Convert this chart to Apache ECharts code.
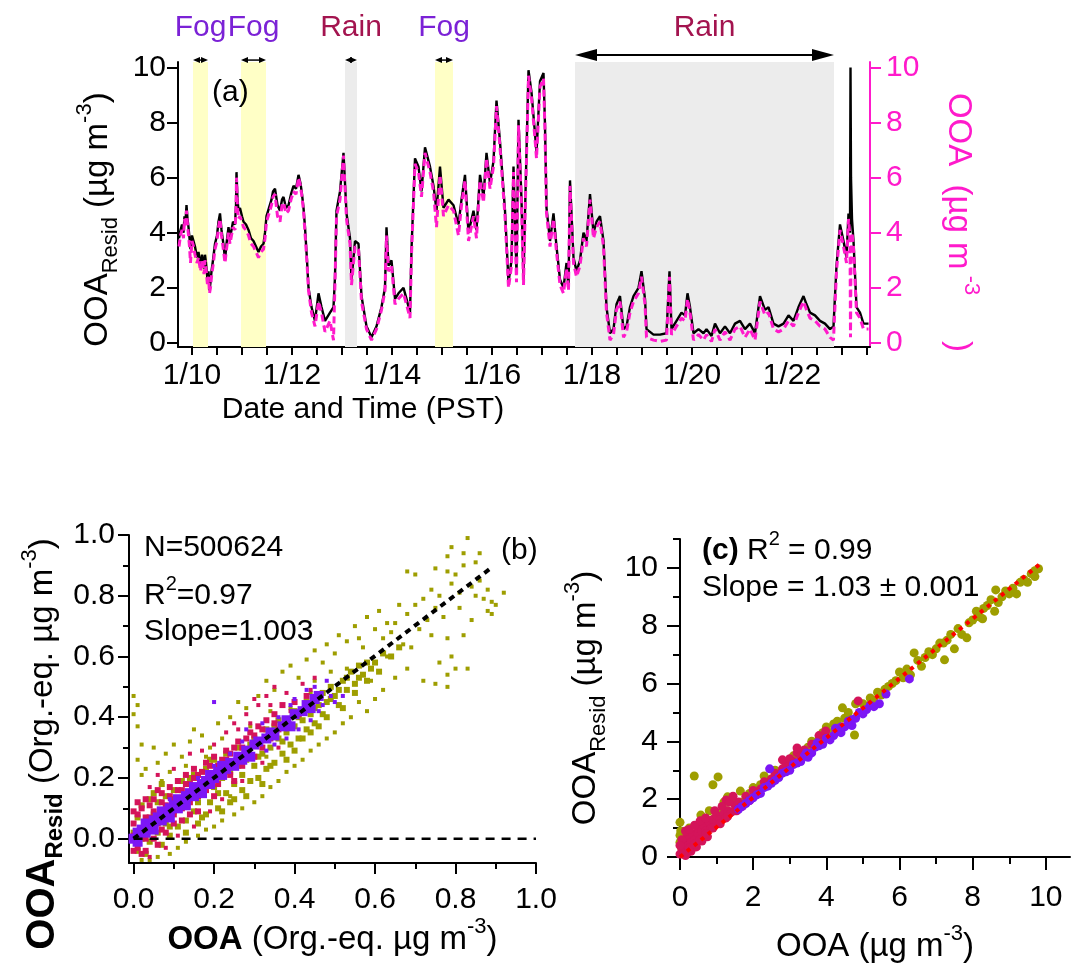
<!DOCTYPE html>
<html><head><meta charset="utf-8">
<script src="https://cdn.jsdelivr.net/npm/echarts@6/dist/echarts.min.js"></script>
<style>html,body{margin:0;padding:0;background:#fff}#c{width:1074px;height:966px}</style>
</head><body><div id="c"></div>
<script>
// ---------- DATA ----------
// Panel (a): time in days of January (PST)
const times = [
 9.74,9.77,9.80,9.83,9.85,9.87,9.89,9.91,9.93,9.95,
 9.97,10.00,10.03,10.06,10.10,10.13,10.17,10.20,10.22,10.24,
 10.26,10.28,10.31,10.33,10.35,10.37,10.39,10.42,10.46,10.50,
 10.53,10.56,10.59,10.62,10.64,10.66,10.69,10.73,10.76,10.79,
 10.82,10.86,10.88,10.89,10.91,10.93,10.96,11.00,11.03,11.08,
 11.13,11.18,11.23,11.28,11.33,11.38,11.43,11.46,11.49,11.54,
 11.59,11.62,11.66,11.71,11.76,11.80,11.83,11.88,11.93,11.98,
 12.03,12.08,12.13,12.17,12.20,12.23,12.26,12.30,12.33,
 12.39,12.46,12.53,12.59,12.66,12.76,12.83,12.86,12.89,12.96,
 13.03,13.09,13.16,13.19,13.26,13.33,13.39,13.49,13.59,13.69,
 13.79,13.86,13.89,13.93,13.99,14.06,14.13,14.23,14.29,14.36,
 14.39,14.46,14.53,14.59,14.66,14.76,14.83,14.89,14.96,15.03,
 15.13,15.23,15.33,15.39,15.46,15.53,15.63,15.69,15.76,15.83,
 15.89,15.96,16.03,16.09,16.16,16.26,16.33,16.39,16.43,16.49,
 16.53,16.59,16.63,16.66,16.73,16.79,16.86,16.89,16.96,17.03,
 17.06,17.09,17.16,17.23,17.29,17.36,17.43,17.49,17.53,17.56,
 17.63,17.69,17.76,17.83,17.89,17.96,18.03,18.09,18.16,18.23,
 18.29,18.36,18.43,18.49,18.56,18.63,18.69,18.76,18.83,18.93,
 18.99,19.06,19.09,19.23,19.36,19.49,19.55,19.59,19.69,19.79,
 19.86,19.91,19.96,20.03,20.13,20.23,20.29,20.39,20.46,20.56,
 20.66,20.76,20.86,20.96,21.06,21.16,21.26,21.36,21.46,21.53,
 21.63,21.73,21.83,21.93,22.03,22.13,22.23,22.29,22.36,22.46,
 22.56,22.66,22.76,22.83,22.89,22.96,23.03,23.09,23.13,23.16,
 23.17,23.18,23.20,23.23,23.29,23.36,23.43,23.53
];
const ooaResid = [
 3.8,4.1,4.3,4.0,4.6,4.4,5.0,4.5,4.2,3.8,
 3.4,3.9,3.7,3.5,3.1,3.3,2.8,3.2,3.0,2.7,
 3.2,2.9,2.3,2.6,1.9,2.2,2.6,3.0,3.6,3.9,
 4.4,4.7,4.1,3.7,3.4,3.0,3.6,4.2,3.8,4.1,
 4.4,4.3,5.0,6.2,5.2,4.8,4.9,4.6,4.4,4.3,
 4.1,3.8,3.7,3.5,3.3,3.5,3.6,4.0,4.6,4.9,
 5.2,5.5,5.6,5.0,4.8,5.2,5.3,4.9,5.0,5.4,
 5.7,5.6,6.1,5.8,5.4,4.9,4.2,3.0,2.0,
 1.3,0.8,1.8,1.3,0.8,1.1,1.3,2.4,4.8,5.5,
 6.9,4.7,3.8,2.3,3.7,3.6,1.7,0.6,0.2,0.6,
 1.3,2.0,4.2,2.8,3.0,1.6,1.8,2.0,1.6,1.1,
 3.4,6.7,6.4,5.5,7.1,6.4,5.7,4.8,6.4,4.9,
 5.2,5.0,4.3,5.2,6.1,4.0,4.8,4.1,6.1,5.3,
 6.9,5.8,6.6,8.8,7.3,4.8,2.2,3.0,6.4,2.5,
 8.1,5.2,2.3,4.7,9.9,9.1,7.6,6.9,9.5,9.8,
 7.9,4.9,3.7,4.7,3.5,2.3,2.0,2.9,2.0,5.9,
 3.1,2.6,3.0,4.0,3.7,5.4,4.0,4.4,4.6,3.7,
 1.3,0.35,0.5,1.4,1.7,0.5,0.6,1.3,1.7,2.0,
 2.6,1.6,0.5,0.3,0.3,0.35,2.6,0.5,0.8,1.1,
 1.0,1.8,1.3,0.35,0.5,0.35,0.5,0.25,0.7,0.35,
 0.6,0.35,0.7,0.8,0.5,0.7,0.35,1.7,1.2,1.3,
 0.7,0.6,0.7,1.0,0.8,1.3,1.7,1.4,1.1,1.0,
 0.8,0.7,0.5,0.6,2.8,4.3,3.7,3.1,4.7,4.0,
 10.0,6.0,4.5,3.7,1.3,1.1,0.7,0.7
];
const ooa = [
 3.5,3.9,4.1,3.8,4.5,4.2,4.8,4.3,3.9,3.5,
 2.9,3.7,3.5,3.2,2.9,3.1,2.6,3.0,2.8,2.5,
 3.0,2.7,2.1,2.4,1.8,2.0,2.4,2.8,3.4,3.7,
 4.2,4.5,3.9,3.5,3.2,2.9,3.4,4.0,3.6,3.9,
 4.2,4.1,4.8,6.0,4.9,4.5,4.6,4.4,4.2,4.1,
 3.9,3.6,3.5,3.3,3.1,3.3,3.4,3.8,4.4,4.7,
 5.0,5.3,5.4,4.6,4.4,5.0,5.1,4.7,4.8,5.2,
 5.5,5.4,6.0,5.7,5.3,4.8,4.0,2.9,1.9,
 1.1,0.6,1.5,1.1,0.4,0.8,0.1,2.2,4.6,5.2,
 6.8,4.5,3.6,2.1,3.5,3.4,1.5,0.5,0.1,0.5,
 1.2,1.9,3.9,2.6,2.8,1.4,1.6,1.8,1.4,0.9,
 3.2,6.5,6.2,5.3,6.9,6.2,5.5,4.2,6.1,4.6,
 5.0,4.8,3.9,5.0,5.9,3.7,4.6,3.8,5.9,5.1,
 6.7,5.6,6.4,8.6,7.1,4.6,2.0,2.8,6.2,2.2,
 7.9,5.0,2.1,4.5,9.7,8.9,7.4,6.7,9.3,9.6,
 7.7,4.7,3.5,4.5,3.3,2.1,1.8,2.7,1.9,5.7,
 2.9,2.4,2.8,3.8,3.5,5.2,3.8,4.2,4.4,3.5,
 1.1,0.1,0.3,1.2,1.5,0.2,0.4,1.1,1.5,1.8,
 2.4,1.4,0.2,0.1,0.05,0.1,2.4,0.3,0.6,0.9,
 0.8,1.6,1.1,0.1,0.3,0.1,0.3,0.05,0.5,0.1,
 0.4,0.1,0.5,0.6,0.2,0.5,0.1,1.5,1.0,1.1,
 0.5,0.4,0.5,0.8,0.6,1.1,1.5,1.2,0.9,0.8,
 0.6,0.5,0.2,0.1,2.6,4.1,3.5,2.9,4.5,3.8,
 0.2,3.0,4.0,3.5,1.1,0.9,0.5,0.5
];
// Fog / Rain events (day of January)
const eventStart = [10.02, 10.98, 13.06, 14.86, 17.66];
const eventEnd   = [10.32, 11.48, 13.30, 15.22, 22.84];
const eventLabel = ['Fog', 'Fog', 'Rain', 'Fog', 'Rain'];
// Tick labels
const dayLabels = [10, 12, 14, 16, 18, 20, 22];
const dayTicks = [10,10.5,11,11.5,12,12.5,13,13.5,14,14.5,15,15.5,16,16.5,17,17.5,18,18.5,19,19.5,20,20.5,21,21.5,22,22.5,23,23.5];
const concLabels = [0, 2, 4, 6, 8, 10];
const fracLabels = [0, 0.2, 0.4, 0.6, 0.8, 1.0];
const fracMinor = [0.1, 0.3, 0.5, 0.7, 0.9];
const oddMinorX = [1, 3, 5, 7, 9];
const oddMinorY = [1, 3, 5, 7, 9, 11];

// Panel (b): OOA vs OOA_Resid (Org.-eq. ug m-3)
const oliveDenseB = [
 [0.00,0.02],[0.01,-0.04],[0.01,0.07],[0.02,0.00],[0.02,0.11],[0.03,-0.05],[0.03,0.05],[0.04,0.13],[0.04,-0.01],[0.05,0.08],
 [0.06,0.02],[0.06,0.12],[0.07,-0.02],[0.08,0.05],[0.08,0.14],[0.09,0.01],[0.10,0.09],[0.10,0.16],[0.11,0.04],[0.12,0.12],
 [0.12,0.19],[0.13,0.06],[0.14,0.15],[0.15,0.09],[0.15,0.21],[0.16,0.12],[0.17,0.07],[0.17,0.18],[0.18,0.23],[0.19,0.12],
 [0.20,0.17],[0.20,0.26],[0.21,0.10],[0.22,0.20],[0.23,0.15],[0.23,0.28],[0.24,0.22],[0.25,0.13],[0.25,0.18],[0.26,0.30],
 [0.27,0.21],[0.27,0.16],[0.28,0.26],[0.29,0.19],[0.30,0.33],[0.30,0.24],[0.31,0.20],[0.32,0.28],[0.33,0.23],[0.33,0.36],
 [0.34,0.30],[0.35,0.25],[0.36,0.33],[0.36,0.39],[0.37,0.28],[0.38,0.35],[0.39,0.31],[0.40,0.42],[0.40,0.37],[0.41,0.33],
 [0.42,0.39],[0.43,0.36],[0.43,0.45],[0.44,0.41],[0.45,0.38],[0.46,0.44],[0.47,0.48],[0.47,0.41],[0.48,0.45],[0.49,0.50],
 [0.50,0.47],[0.51,0.44],[0.52,0.52],[0.53,0.49],[0.54,0.55],[0.55,0.51],[0.56,0.57],[0.57,0.54],[0.58,0.58],[0.59,0.56],
 [0.05,0.15],[0.07,0.18],[0.09,0.04],[0.11,0.13],[0.13,0.02],[0.14,0.20],[0.16,0.05],[0.18,0.08],[0.19,0.26],[0.21,0.15],
 [0.22,0.09],[0.24,0.12],[0.26,0.24],[0.28,0.14],[0.29,0.31],[0.31,0.27],[0.32,0.18],[0.34,0.24],[0.35,0.37],[0.37,0.32],
 [0.38,0.26],[0.40,0.29],[0.41,0.40],[0.42,0.33],[0.44,0.35],[0.45,0.43],[0.46,0.37],[0.48,0.40],[0.49,0.46],[0.51,0.49],
 [0.52,0.43],[0.53,0.53],[0.55,0.48],[0.56,0.53],[0.58,0.52],[0.60,0.58],[0.61,0.55],[0.62,0.61],[0.64,0.60],[0.66,0.63]
];
const oliveSparseB = [
 [0.00,0.47],[0.01,0.44],[0.00,0.41],[0.01,0.37],[0.02,0.31],[0.01,0.26],[0.02,0.21],[0.03,0.23],[0.05,0.30],[0.06,0.25],
 [0.08,0.28],[0.10,0.31],[0.12,0.27],[0.14,0.32],[0.15,0.36],[0.17,0.34],[0.19,0.30],[0.21,0.38],[0.24,0.40],[0.26,0.45],
 [0.28,0.43],[0.31,0.47],[0.33,0.52],[0.35,0.49],[0.37,0.55],[0.39,0.57],[0.41,0.53],[0.43,0.59],[0.45,0.62],[0.47,0.58],
 [0.48,0.64],[0.50,0.61],[0.51,0.67],[0.53,0.65],[0.55,0.70],[0.56,0.66],[0.58,0.73],[0.60,0.69],[0.61,0.75],[0.63,0.71],
 [0.65,0.71],[0.66,0.77],[0.68,0.74],[0.68,0.88],[0.70,0.87],[0.70,0.77],[0.72,0.79],[0.74,0.82],[0.75,0.89],[0.76,0.80],
 [0.78,0.93],[0.78,0.88],[0.79,0.96],[0.79,0.84],[0.80,0.87],[0.82,0.94],[0.82,0.90],[0.83,0.99],[0.85,0.91],[0.86,0.94],
 [0.85,0.80],[0.87,0.79],[0.88,0.82],[0.89,0.78],[0.90,0.77],[0.92,0.81],[0.88,0.75],[0.89,0.74],[0.84,0.83],[0.81,0.81],
 [0.82,0.67],[0.78,0.66],[0.76,0.58],[0.79,0.60],[0.80,0.56],[0.83,0.56],[0.78,0.54],[0.75,0.51],[0.78,0.50],[0.68,0.56],
 [0.72,0.52],[0.65,0.53],[0.62,0.49],[0.60,0.46],[0.58,0.42],[0.56,0.45],[0.54,0.40],[0.52,0.38],[0.50,0.35],[0.48,0.33],
 [0.46,0.31],[0.44,0.29],[0.42,0.26],[0.40,0.24],[0.38,0.22],[0.36,0.19],[0.34,0.17],[0.32,0.14],[0.30,0.12],[0.27,0.10],
 [0.25,0.08],[0.22,0.06],[0.20,0.04],[0.18,0.03],[0.16,0.01],[0.13,-0.01],[0.11,-0.03],[0.09,-0.05],[0.06,-0.06],[0.04,-0.07],
 [0.02,-0.07],[0.07,0.19],[0.09,0.22],[0.13,0.24],[0.18,0.27],[0.22,0.33],[0.29,0.37],[0.34,0.42],[0.45,0.52],[0.49,0.55],
 [0.57,0.63],[0.62,0.66],[0.59,0.52],[0.63,0.60],[0.67,0.64],[0.71,0.69],[0.73,0.72],[0.69,0.63],[0.74,0.67],[0.77,0.73],
 [0.81,0.76],[0.84,0.72],[0.86,0.85],[0.75,0.76],[0.64,0.68],[0.53,0.56],[0.44,0.48],[0.39,0.43],[0.33,0.27],[0.24,0.14]
];
const crimsonDenseB = [
 [0.00,0.01],[0.00,0.05],[0.01,-0.03],[0.01,0.08],[0.02,0.03],[0.02,0.10],[0.03,0.00],[0.03,0.07],[0.04,0.11],[0.04,0.03],
 [0.05,0.09],[0.05,0.13],[0.06,0.05],[0.07,0.12],[0.07,0.15],[0.08,0.07],[0.09,0.14],[0.09,0.17],[0.10,0.08],[0.11,0.16],
 [0.11,0.19],[0.12,0.10],[0.13,0.18],[0.13,0.21],[0.14,0.12],[0.15,0.20],[0.15,0.23],[0.16,0.14],[0.17,0.22],[0.18,0.25],
 [0.18,0.16],[0.19,0.24],[0.20,0.27],[0.21,0.18],[0.22,0.26],[0.23,0.29],[0.24,0.21],[0.25,0.30],[0.26,0.32],[0.27,0.24],
 [0.28,0.33],[0.29,0.35],[0.30,0.27],[0.31,0.37],[0.32,0.30],[0.33,0.39],[0.34,0.33],[0.35,0.41],[0.36,0.36],[0.37,0.44],
 [0.38,0.38],[0.40,0.45],[0.41,0.41],[0.43,0.47],[0.02,-0.05],[0.05,0.00],[0.08,0.02],[0.12,0.06],[0.16,0.09],[0.06,-0.02],
 [0.00,0.09],[0.01,0.12],[0.03,0.13],[0.04,0.07],[0.06,0.16],[0.08,0.11],[0.10,0.13],[0.12,0.16],[0.14,0.18],[0.16,0.21],
 [0.19,0.21],[0.21,0.24],[0.23,0.26],[0.24,0.28],[0.27,0.30],[0.30,0.34],[0.32,0.36],[0.35,0.38],[0.00,-0.04],[0.03,-0.04],
 [0.07,0.03],[0.10,0.05],[0.14,0.08],[0.20,0.14],[0.25,0.19]
];
const crimsonSparseB = [
 [0.04,0.17],[0.06,0.21],[0.10,0.23],[0.14,0.28],[0.17,0.29],[0.20,0.31],[0.23,0.35],[0.25,0.38],[0.28,0.41],[0.31,0.44],
 [0.33,0.47],[0.35,0.50],[0.38,0.48],[0.30,0.46],[0.42,0.51],[0.45,0.53],[0.44,0.49],[0.39,0.42],[0.36,0.30],[0.32,0.25],
 [0.27,0.19],[0.22,0.13],[0.19,0.09],[0.15,0.04],[0.11,0.01],[0.08,-0.03],[0.04,-0.06],[0.26,0.36],[0.29,0.38],[0.34,0.44]
];
const purpleDenseB = [
 [0.00,0.00],[0.01,0.02],[0.01,-0.01],[0.02,0.03],[0.03,0.02],[0.03,0.05],[0.04,0.04],[0.05,0.06],[0.05,0.03],[0.06,0.07],
 [0.07,0.06],[0.07,0.09],[0.08,0.08],[0.09,0.10],[0.09,0.07],[0.10,0.11],[0.11,0.10],[0.11,0.13],[0.12,0.12],[0.13,0.14],
 [0.13,0.11],[0.14,0.15],[0.15,0.14],[0.15,0.17],[0.16,0.16],[0.17,0.18],[0.17,0.15],[0.18,0.19],[0.19,0.18],[0.19,0.21],
 [0.20,0.20],[0.21,0.22],[0.22,0.21],[0.22,0.24],[0.23,0.23],[0.24,0.25],[0.25,0.24],[0.26,0.27],[0.27,0.26],[0.28,0.29],
 [0.29,0.27],[0.30,0.31],[0.31,0.32],[0.33,0.33],[0.34,0.35],[0.35,0.34],[0.37,0.37],[0.38,0.39],[0.39,0.37],[0.40,0.41],
 [0.42,0.42],[0.43,0.44],[0.44,0.43],[0.45,0.46],[0.46,0.47]
];
const purpleSparseB = [
 [0.20,0.45],[0.28,0.36],[0.32,0.38],[0.36,0.40],[0.33,0.29],[0.38,0.33],[0.41,0.36],[0.44,0.39],[0.45,0.50],[0.48,0.52],
 [0.47,0.44],[0.49,0.47],[0.50,0.45],[0.52,0.47],[0.43,0.49],[0.40,0.46],[0.24,0.28],[0.20,0.24],[0.16,0.20],[0.09,0.13],
 [0.27,0.32],[0.35,0.31],[0.39,0.44],[0.46,0.42]
];
const fitB = [[0, 0], [0.885, 0.888]];
const zeroB = [[0, 0], [1.0, 0]];

// Panel (c): OOA vs OOA_Resid (ug m-3)
const oliveC = [
 [0.05,0.3],[0.1,0.6],[0.0,1.2],[0.02,0.9],[0.2,0.5],[0.3,0.6],[0.39,2.8],[0.45,0.8],[0.6,0.9],[0.7,1.0],
 [0.9,2.5],[1.04,2.77],[0.9,1.3],[1.1,1.5],[1.3,1.6],[1.5,1.9],[1.65,2.28],[1.7,1.9],[1.9,2.2],[2.0,2.4],
 [2.2,2.5],[2.3,2.8],[2.5,2.7],[2.6,3.0],[2.8,3.0],[3.0,3.3],[3.1,3.5],[3.3,3.5],[3.5,3.8],[3.6,4.0],
 [3.8,4.1],[4.0,4.5],[4.1,4.3],[4.3,4.7],[4.5,4.8],[4.6,5.0],[4.77,4.22],[4.8,5.3],[5.0,5.3],[5.2,5.5],
 [5.4,5.7],[5.5,5.6],[5.7,5.9],[5.9,6.1],[6.0,6.4],[6.2,6.5],[6.3,6.3],[6.5,6.8],[6.6,6.6],[6.8,7.1],
 [7.0,7.2],[7.1,7.4],[7.3,7.5],[7.4,7.7],[7.5,7.2],[7.6,7.9],[7.7,7.7],[7.9,8.1],[8.1,8.5],[8.2,8.3],
 [8.4,8.7],[8.5,8.9],[8.6,8.5],[8.8,9.0],[8.9,9.2],[9.1,9.3],[9.2,9.1],[9.4,9.6],[9.5,9.5],[9.7,9.9],
 [9.8,9.97],[9.7,9.7],[7.84,7.58],[7.23,6.82],[4.44,5.16],[6.4,7.06],[8.63,9.24],[8.27,8.24],[0.57,1.45],[1.3,2.08],
 [0.0,0.5],[0.0,0.75],[0.25,1.0],[0.8,1.6],[1.2,1.9],[3.9,4.3],[4.2,4.6],[5.3,5.4],[5.6,5.8],[6.1,6.2],
 [6.7,6.9],[6.9,7.0],[7.2,7.4],[8.0,8.2],[8.3,8.6],[8.7,8.8],[9.0,9.1],[9.3,9.5],[9.6,9.8],[5.8,6.0]
];
const crimsonC = [
 [0.0,0.1],[0.05,0.3],[0.1,0.2],[0.1,0.5],[0.2,0.4],[0.2,0.7],[0.3,0.5],[0.35,0.8],[0.4,0.6],[0.5,0.8],
 [0.5,1.0],[0.6,0.9],[0.65,1.1],[0.7,0.9],[0.8,1.2],[0.85,1.0],[0.9,1.3],[1.0,1.2],[1.0,1.45],[1.1,1.3],
 [1.2,1.5],[1.25,1.35],[1.3,1.6],[1.4,1.55],[1.5,1.8],[1.55,1.6],[1.6,1.9],[1.7,1.8],[1.8,2.1],[1.9,2.0],
 [2.0,2.3],[2.1,2.2],[2.3,2.6],[2.4,2.5],[2.6,2.9],[2.7,2.8],[2.9,3.2],[3.1,3.3],[3.2,3.6],[3.4,3.7],
 [3.6,3.9],[3.8,4.2],[3.98,4.36],[4.87,5.4],[0.15,0.05],[0.3,0.2],[0.45,0.35],[0.6,0.55],[0.75,0.7],[0.2,0.15],
 [1.26,1.97],[2.8,3.36],[3.2,3.77],[0.05,0.6],[0.15,0.9],[0.25,0.95],[0.4,1.1],[0.55,1.25],[0.7,1.35],[0.95,1.6],
 [1.15,1.75],[1.35,1.9],[1.45,2.1],[0.0,0.4],[0.1,0.1],[0.25,0.3],[0.4,0.45],[0.55,0.6],[0.7,0.8],[0.9,1.0],
 [1.1,1.15],[1.3,1.4],[1.5,1.6],[1.7,1.75],[1.9,1.95],[2.2,2.35],[2.5,2.7],[2.8,3.05],[3.0,3.4],[3.3,3.5]
];
const purpleC = [
 [1.6,1.65],[1.8,1.85],[2.0,2.05],[2.2,2.2],[2.3,2.4],[2.45,3.05],[2.5,2.55],[2.7,2.75],[2.8,2.9],[3.0,3.0],
 [3.1,3.2],[3.3,3.3],[3.4,3.5],[3.6,3.6],[3.7,3.8],[3.9,3.9],[4.0,4.1],[4.2,4.2],[4.3,4.4],[4.5,4.5],
 [4.6,4.7],[4.8,4.8],[4.9,5.0],[5.1,5.1],[5.2,5.25],[5.45,5.3],[5.63,5.64],[6.27,6.16],[4.4,4.3],[3.5,3.45],
 [2.6,2.65],[4.7,4.55],[1.7,1.75],[1.9,1.95],[2.1,2.15],[2.4,2.45],[2.9,2.95],[3.2,3.25],[3.8,3.85],[4.1,4.05],
 [4.4,4.5],[4.7,4.75],[5.0,4.95],[5.3,5.2],[3.45,3.6],[3.75,3.95],[4.25,4.45]
];
const fitC = [[0, 0], [9.9, 10.2]];

// ---------- STYLE ----------
const F = '"Liberation Sans", Arial, sans-serif';
const MAG = '#ff1acb', OLIVE = '#9e9e00', CRIMSON = '#d4145a', PURPLE = '#7c16f5';
const FOGC = '#7b22d6', RAINC = '#a3144f';
const YELLOW = '#ffffc6', GREY = '#ececec';

const chart = echarts.init(document.getElementById('c'), null, {renderer: 'canvas'});

function richWith(color, fs, bigBold) {
  const small = Math.round(fs * 0.66), lh = Math.round(fs * 1.45), slh = Math.round(fs * 0.5);
  const bb = bigBold || fs;
  return {
    m: {color, fontSize: fs, lineHeight: lh, fontFamily: F},
    b: {color, fontSize: bb, lineHeight: lh, fontFamily: F, fontWeight: 'bold'},
    sub: {color, fontSize: small, lineHeight: slh, fontFamily: F, verticalAlign: 'bottom'},
    bsub: {color, fontSize: Math.round(bb * 0.6), lineHeight: slh, fontFamily: F, fontWeight: 'bold', verticalAlign: 'bottom'},
    sup: {color, fontSize: small, lineHeight: slh, fontFamily: F, verticalAlign: 'top'}
  };
}
const TFS = 33; // axis-title font size
function nameStyle(color, padding, bigBold) {
  const s = {fontSize: TFS, fontFamily: F, color, lineHeight: Math.round(TFS * 1.45), rich: richWith(color, TFS, bigBold)};
  if (padding) s.padding = padding;
  return s;
}

function valAxis(o) {
  return Object.assign({
    type: 'value',
    axisLine: {show: true, onZero: false, lineStyle: {color: '#000', width: 2}},
    axisTick: {show: true, length: 11, lineStyle: {color: '#000', width: 2}},
    axisLabel: {fontSize: 30, fontFamily: F, color: '#000'},
    splitLine: {show: false}
  }, o);
}
function minorAxis(o, vals, len) {
  return Object.assign({
    type: 'value',
    axisLine: {show: false, onZero: false},
    axisTick: {show: true, length: len, customValues: vals, lineStyle: {color: '#000', width: 2}},
    axisLabel: {show: false},
    splitLine: {show: false}
  }, o);
}

const fmt1 = v => Number(v).toFixed(1);

function renderEvent(params, api) {
  const i = params.dataIndex;
  const x1 = api.coord([api.value(0), 0])[0];
  const x2 = api.coord([api.value(1), 0])[0];
  const big = (x2 - x1) > 60;
  const ya = api.coord([0, big ? 10.45 : 10.27])[1];
  const yl = api.coord([0, 11.43])[1];
  const hl = big ? 22 : 7, hh = big ? 6 : 3;
  const col = eventLabel[i] === 'Fog' ? FOGC : RAINC;
  return {
    type: 'group',
    children: [
      {type: 'line', shape: {x1: x1 + hl * 0.5, y1: ya, x2: x2 - hl * 0.5, y2: ya}, style: {stroke: '#000', lineWidth: big ? 2 : 1.5}},
      {type: 'polygon', shape: {points: [[x1, ya], [x1 + hl, ya - hh], [x1 + hl, ya + hh]]}, style: {fill: '#000'}},
      {type: 'polygon', shape: {points: [[x2, ya], [x2 - hl, ya - hh], [x2 - hl, ya + hh]]}, style: {fill: '#000'}},
      {type: 'text', style: {text: eventLabel[i], x: (x1 + x2) / 2, y: yl, align: 'center', verticalAlign: 'middle',
        textAlign: 'center', textVerticalAlign: 'middle', fill: col, font: '30px ' + F}}
    ]
  };
}

const bandData = eventStart.map((s, i) => [
  {xAxis: s, itemStyle: {color: eventLabel[i] === 'Fog' ? YELLOW : GREY}},
  {xAxis: eventEnd[i]}
]);

function sc(name, data, color, size, sym, xi, yi) {
  return {type: 'scatter', name, data, xAxisIndex: xi, yAxisIndex: yi, symbol: sym, symbolSize: size,
    itemStyle: {color: color, opacity: 1}, silent: true, animation: false};
}

const option = {
  animation: false,
  backgroundColor: '#fff',
  grid: [
    {left: 178, right: 204, top: 62, bottom: 619, containLabel: false, outerBoundsMode: 'none'},
    {left: 129, right: 538, top: 535, bottom: 103, containLabel: false, outerBoundsMode: 'none'},
    {left: 680, right: 4, top: 539, bottom: 109, containLabel: false, outerBoundsMode: 'none'}
  ],
  xAxis: [
    valAxis({gridIndex: 0, min: 9.72, max: 23.56,
      axisTick: {show: true, length: 8, customValues: dayTicks, lineStyle: {color: '#000', width: 2}},
      axisLabel: {customValues: dayLabels, formatter: v => '1/' + v, fontSize: 30, fontFamily: F, color: '#000', margin: 14}}),
    valAxis({gridIndex: 1, min: -0.0114, max: 1.0,
      axisTick: {show: true, length: 11, customValues: fracLabels, lineStyle: {color: '#000', width: 2}},
      axisLabel: {customValues: fracLabels, formatter: fmt1, fontSize: 30, fontFamily: F, color: '#000', margin: 22},
      name: '{b|OOA}{m| (Org.-eq. µg m}{sup|-3}{m|)}', nameLocation: 'middle', nameGap: 46,
      nameTextStyle: nameStyle('#000')}),
    minorAxis({gridIndex: 1, min: -0.0114, max: 1.0, position: 'bottom'}, fracMinor, 6),
    valAxis({gridIndex: 2, min: 0, max: 10.66,
      axisTick: {show: true, length: 13, customValues: concLabels, lineStyle: {color: '#000', width: 2}},
      axisLabel: {customValues: concLabels, fontSize: 30, fontFamily: F, color: '#000', margin: 26},
      name: '{m|OOA (µg m}{sup|-3}{m|)}', nameLocation: 'middle', nameGap: 66,
      nameTextStyle: nameStyle('#000')}),
    minorAxis({gridIndex: 2, min: 0, max: 10.66, position: 'bottom'}, oddMinorX, 7)
  ],
  yAxis: [
    valAxis({gridIndex: 0, min: -0.15, max: 10.2, position: 'left',
      axisTick: {show: true, length: 11, customValues: concLabels, lineStyle: {color: '#000', width: 2}},
      axisLabel: {customValues: concLabels, fontSize: 30, fontFamily: F, color: '#000', margin: 12},
      name: '{m|OOA}{sub|Resid}{m| (µg m}{sup|-3}{m|)}', nameLocation: 'middle', nameGap: 50, nameRotate: 90,
      nameTextStyle: nameStyle('#000', [0, 30, 0, 0])}),
    valAxis({gridIndex: 0, min: -0.15, max: 10.2, position: 'right',
      axisLine: {show: true, onZero: false, lineStyle: {color: MAG, width: 2}},
      axisTick: {show: true, length: 11, customValues: concLabels, lineStyle: {color: MAG, width: 2}},
      axisLabel: {customValues: concLabels, fontSize: 30, fontFamily: F, color: MAG, margin: 16},
      name: '{m|OOA  (µg m}{sup| -3}{m|     )}', nameLocation: 'middle', nameGap: 64, nameRotate: -90,
      nameTextStyle: nameStyle(MAG, [0, 0, 0, 36])}),
    valAxis({gridIndex: 1, min: -0.08, max: 1.0, position: 'left',
      axisTick: {show: true, length: 11, customValues: fracLabels, lineStyle: {color: '#000', width: 2}},
      axisLabel: {customValues: fracLabels, formatter: fmt1, fontSize: 30, fontFamily: F, color: '#000', margin: 14},
      name: '{b|OOA}{bsub|Resid}{m| (Org.-eq. µg m}{sup|-3}{m|)}', nameLocation: 'middle', nameGap: 62, nameRotate: 90,
      nameTextStyle: nameStyle('#000', [0, 90, 0, 0], 40)}),
    minorAxis({gridIndex: 1, min: -0.08, max: 1.0, position: 'left'}, fracMinor, 6),
    valAxis({gridIndex: 2, min: 0, max: 11, position: 'left',
      axisTick: {show: true, length: 13, customValues: concLabels, lineStyle: {color: '#000', width: 2}},
      axisLabel: {customValues: concLabels, fontSize: 30, fontFamily: F, color: '#000', margin: 22},
      name: '{m|OOA}{sub|Resid}{m| (µg m}{sup|-3}{m|)}', nameLocation: 'middle', nameGap: 70, nameRotate: 90,
      nameTextStyle: nameStyle('#000')}),
    minorAxis({gridIndex: 2, min: 0, max: 11, position: 'left'}, oddMinorY, 7)
  ],
  series: [
    {type: 'line', name: 'OOA_Resid', xAxisIndex: 0, yAxisIndex: 0, data: times.map((t, i) => [t, ooaResid[i]]),
      showSymbol: false, symbol: 'none', lineStyle: {color: '#000', width: 2.4}, z: 3, silent: true,
      markArea: {silent: true, data: bandData, z: 1}},
    {type: 'line', name: 'OOA', xAxisIndex: 0, yAxisIndex: 1, data: times.map((t, i) => [t, ooa[i]]),
      showSymbol: false, symbol: 'none', lineStyle: {color: MAG, width: 3, type: [7, 4]}, z: 4, silent: true},
    {type: 'custom', name: 'events', xAxisIndex: 0, yAxisIndex: 0, clip: false, silent: true,
      data: eventStart.map((s, i) => [s, eventEnd[i]]), renderItem: renderEvent, z: 5},

    sc('oliveDenseB', oliveDenseB, OLIVE, 6, 'rect', 1, 2),
    sc('oliveSparseB', oliveSparseB, OLIVE, 4, 'rect', 1, 2),
    sc('crimsonDenseB', crimsonDenseB, CRIMSON, 6, 'rect', 1, 2),
    sc('crimsonSparseB', crimsonSparseB, CRIMSON, 4, 'rect', 1, 2),
    sc('purpleDenseB', purpleDenseB, PURPLE, 10, 'rect', 1, 2),
    sc('purpleSparseB', purpleSparseB, PURPLE, 4, 'rect', 1, 2),
    {type: 'line', name: 'zeroB', xAxisIndex: 1, yAxisIndex: 2, data: zeroB, symbol: 'none',
      lineStyle: {color: '#000', width: 2.5, type: [9, 7]}, silent: true, z: 5},
    {type: 'line', name: 'fitB', xAxisIndex: 1, yAxisIndex: 2, data: fitB, symbol: 'none',
      lineStyle: {color: '#000', width: 4, type: [6, 5]}, silent: true, z: 5},

    sc('oliveC', oliveC, OLIVE, 9, 'circle', 3, 4),
    sc('crimsonC', crimsonC, CRIMSON, 9, 'circle', 3, 4),
    sc('purpleC', purpleC, PURPLE, 9, 'circle', 3, 4),
    {type: 'line', name: 'fitC', xAxisIndex: 3, yAxisIndex: 4, data: fitC, symbol: 'none',
      lineStyle: {color: '#ff0000', width: 4, type: [4, 5]}, silent: true, z: 5}
  ],
  graphic: [
    {type: 'text', left: 212, top: 78, z: 100, style: {text: '(a)', font: '30px ' + F, fill: '#000'}},
    {type: 'text', x: 363, y: 410, z: 100, style: {text: 'Date and Time (PST)', font: '30px ' + F, fill: '#000',
      align: 'center', verticalAlign: 'middle', textAlign: 'center', textVerticalAlign: 'middle'}},
    {type: 'text', x: 144, y: 548, z: 100, style: {text: 'N=500624', font: '30px ' + F, fill: '#000', verticalAlign: 'middle', textVerticalAlign: 'middle'}},
    {type: 'text', x: 144, y: 596, z: 100, style: {text: '{m|R}{sup|2}{m|=0.97}', font: '30px ' + F, fill: '#000',
      verticalAlign: 'middle', textVerticalAlign: 'middle', rich: richWith('#000', 30)}},
    {type: 'text', x: 144, y: 632, z: 100, style: {text: 'Slope=1.003', font: '30px ' + F, fill: '#000', verticalAlign: 'middle', textVerticalAlign: 'middle'}},
    {type: 'text', x: 501, y: 551, z: 100, style: {text: '(b)', font: '30px ' + F, fill: '#000', verticalAlign: 'middle', textVerticalAlign: 'middle'}},
    {type: 'text', x: 702, y: 551, z: 100, style: {text: '{b|(c)}{m| R}{sup|2}{m| = 0.99}', font: '30px ' + F, fill: '#000',
      verticalAlign: 'middle', textVerticalAlign: 'middle', rich: richWith('#000', 30)}},
    {type: 'text', x: 702, y: 588, z: 100, style: {text: 'Slope = 1.03 ± 0.001', font: '30px ' + F, fill: '#000', verticalAlign: 'middle', textVerticalAlign: 'middle'}}
  ]
};
chart.setOption(option);
</script>
</body></html>
